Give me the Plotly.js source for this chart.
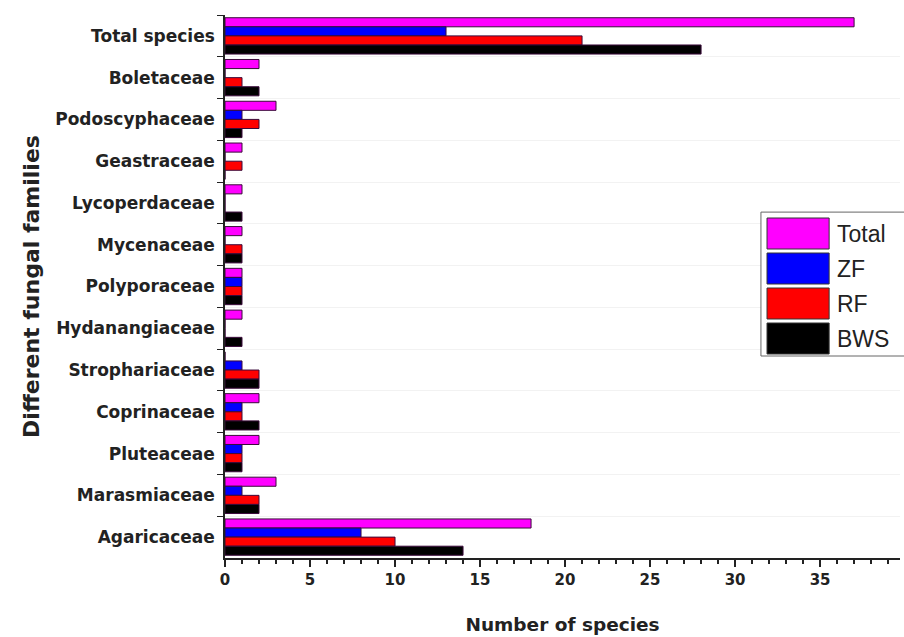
<!DOCTYPE html>
<html>
<head>
<meta charset="utf-8">
<script src="https://cdn.plot.ly/plotly-3.0.1.min.js"></script>
<style>html,body{margin:0;padding:0;background:#fff;}#chart{width:904px;height:637px;}</style>
</head>
<body>
<div id="chart"></div>
<script>
const families = ["Total species","Boletaceae","Podoscyphaceae","Geastraceae","Lycoperdaceae","Mycenaceae","Polyporaceae","Hydanangiaceae","Strophariaceae","Coprinaceae","Pluteaceae","Marasmiaceae","Agaricaceae"];
const seriesNames = ["Total","ZF","RF","BWS"];
const totalVals = [37,2,3,1,1,1,1,1,0,2,2,3,18];
const zfVals    = [13,0,1,0,0,0,1,0,1,1,1,1,8];
const rfVals    = [21,1,2,1,0,1,1,0,2,1,1,2,10];
const bwsVals   = [28,2,1,0,1,1,1,1,2,2,1,2,14];
const xTickVals = [0,5,10,15,20,25,30,35];
const seriesColors = ["#ff00ff","#0000ff","#ff0000","#000000"];
const seriesVals = [totalVals, zfVals, rfVals, bwsVals];

const boldFont = 'DejaVu Sans, Arial, sans-serif';

const traces = seriesNames.map((n,i)=>({
  type:'bar', orientation:'h', name:n, y:families, x:seriesVals[i],
  marker:{color:seriesColors[i], line:{color:'#3a0a3a', width:1}},
  showlegend:false
}));

// manual legend (large swatches like the original)
const shapes = [{type:'rect', xref:'paper', yref:'paper', x0:0.794, x1:1.03, y0:0.372, y1:0.637,
  line:{color:'#666', width:1}, fillcolor:'rgba(255,255,255,1)'}];
const annotations = [];
const rowTop = [218, 253, 288, 323];
seriesNames.forEach((n,i)=>{
  const y1 = (558-rowTop[i])/543, y0 = (558-rowTop[i]-31)/543;
  shapes.push({type:'rect', xref:'paper', yref:'paper', x0:0.803, x1:0.895, y0:y0, y1:y1,
    line:{color:'#333', width:1}, fillcolor:seriesColors[i]});
  annotations.push({xref:'paper', yref:'paper', x:0.904, y:(y0+y1)/2, xanchor:'left', yanchor:'middle',
    text:n, showarrow:false, font:{family:'Liberation Sans, Arial, sans-serif', size:23, color:'#222'}});
});

const layout = {
  width:904, height:637,
  margin:{l:225, r:4, t:15, b:79},
  paper_bgcolor:'#fff', plot_bgcolor:'#fff',
  barmode:'group', bargap:0.13, bargroupgap:0,
  font:{family:boldFont, color:'#222'},
  xaxis:{range:[0,39.7], tickvals:xTickVals, ticks:'outside', ticklen:7, tickwidth:1.5, tickcolor:'#222',
    showline:true, linecolor:'#222', linewidth:1.5, showgrid:false, zeroline:false,
    minor:{dtick:1, ticks:'outside', ticklen:4, tickcolor:'#222', showgrid:false},
    tickfont:{size:15, family:boldFont, color:'#222', weight:'bold'},
    title:{text:'<b>Number of species</b>', font:{size:18.5, family:boldFont, color:'#222'}, standoff:30}},
  yaxis:{autorange:'reversed', type:'category', tickson:'boundaries', ticks:'outside', ticklen:6, tickcolor:'#222',
    ticklabelstandoff:5,
    showline:true, linecolor:'#222', linewidth:1.5, showgrid:true, gridcolor:'#f2f2f2', zeroline:false,
    tickfont:{size:17, family:boldFont, color:'#222', weight:'bold'},
    title:{text:'<b>Different fungal families</b>', font:{size:22, family:boldFont, color:'#222'}, standoff:10}},
  shapes:shapes, annotations:annotations, showlegend:false
};
Plotly.newPlot('chart', traces, layout, {displayModeBar:false});
</script>
</body>
</html>
